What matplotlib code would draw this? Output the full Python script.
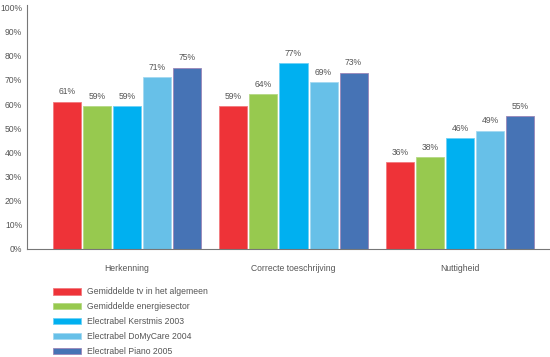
import matplotlib
matplotlib.use("Agg")
import matplotlib.pyplot as plt
from matplotlib.patches import Patch
import numpy as np

categories = ["Herkenning", "Correcte toeschrijving", "Nuttigheid"]
series_names = ["Gemiddelde tv in het algemeen", "Gemiddelde energiesector",
                "Electrabel Kerstmis 2003", "Electrabel DoMyCare 2004",
                "Electrabel Piano 2005"]
values = [
    [61, 59, 36],
    [59, 64, 38],
    [59, 77, 46],
    [71, 69, 49],
    [75, 73, 55],
]
colors = ["#EE3338", "#97C94F", "#00B0F0", "#67C0E8", "#4673B5"]
edges = ["#F27A7E", "#B5D985", "#6FD0F5", "#A3D9F1", "#9A86B8"]
yticks = list(range(0, 101, 10))

plt.rcParams['font.family'] = ['Liberation Sans', 'DejaVu Sans']
txt = "#555555"

fig = plt.figure(figsize=(5.5, 3.57), dpi=100)
ax = fig.add_axes([27/550, 1-249/357, 1-27/550, 244/357])

x = np.arange(len(categories))
step = 30/166.5
width = 28/166.5
for i, (name, vals) in enumerate(zip(series_names, values)):
    pos = x + (i - 2) * step
    bars = ax.bar(pos, vals, width, color=colors[i], edgecolor=edges[i],
                  linewidth=0.6, label=name)
    for b, v in zip(bars, vals):
        ax.text(b.get_x() + b.get_width()/2, v + 2.2, f"{v}%", ha="center",
                va="bottom", fontsize=6.2, color=txt)

ax.set_xlim(-0.6, 2.54)
ax.set_ylim(0, 101)
ax.set_yticks(yticks)
ax.set_yticklabels([f"{t}%" for t in yticks], fontsize=6.2, color=txt)
ax.set_xticks(x)
ax.set_xticklabels(categories, fontsize=6.2, color=txt)
ax.tick_params(axis="x", length=0, pad=11)
ax.tick_params(axis="y", length=0, pad=3.5)
for s in ["top", "right"]:
    ax.spines[s].set_visible(False)
for s in ["left", "bottom"]:
    ax.spines[s].set_color("#777777")
    ax.spines[s].set_linewidth(0.8)

handles = [Patch(facecolor=c, edgecolor=e, linewidth=0.6) for c, e in zip(colors, edges)]
leg = fig.legend(handles, series_names, loc="upper left",
                 bbox_to_anchor=(53/550, 1-287.5/357), frameon=False,
                 fontsize=6.2, handlelength=3.3, handleheight=0.7,
                 labelspacing=0.68, handletextpad=0.6, borderpad=0, borderaxespad=0)
for t in leg.get_texts():
    t.set_color(txt)

fig.savefig("out.png", dpi=100)
